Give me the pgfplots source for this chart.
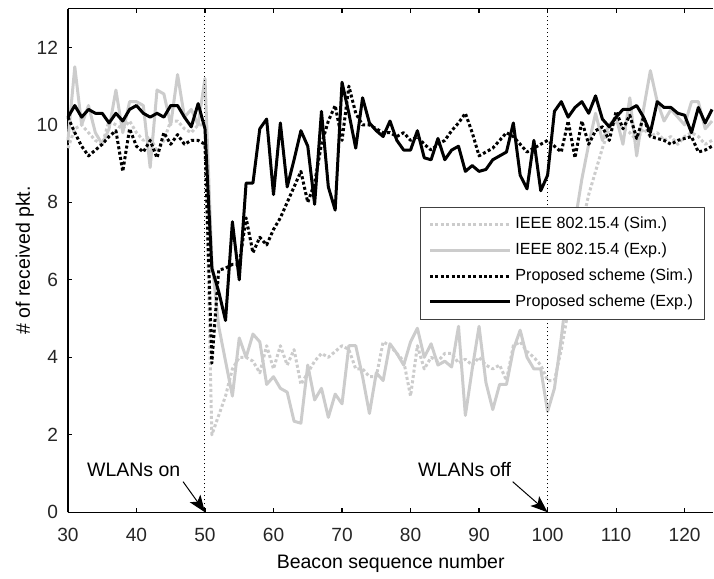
\documentclass[border=0pt]{standalone}
\usepackage{fontspec}
\setmainfont{Liberation Sans}
\usepackage{pgfplots}
\pgfplotsset{compat=1.18}
\usepackage{pgfplotstable}
\usetikzlibrary{arrows.meta}
\definecolor{lg}{RGB}{204,204,204}

% x  ieeeSim ieeeExp propSim propExp
\pgfplotstableread{
x  is    ie    ps    pe
30 9.4   9.6   10.2  10.2
31 9.9   11.5  9.8   10.5
32 10.0  10.0  9.45  10.2
33 9.8   10.5  9.2   10.4
34 9.6   9.8   9.35  10.3
35 9.5   9.5   9.5   10.3
36 10.1  9.9   9.7   10.05
37 10.0  10.9  9.85  10.3
38 9.9   9.8   8.8   10.1
39 10.1  10.6  9.9   10.4
40 9.8   10.6  9.45  10.5
41 9.6   10.5  9.3   10.3
42 9.7   8.9   9.6   10.2
43 9.3   10.9  9.15  10.3
44 9.6   10.8  9.8   10.2
45 10.1  10.0  9.5   10.5
46 10.1  11.3  9.75  10.5
47 9.9   10.2  9.5   10.2
48 9.8   10.4  9.6   9.95
49 10.0  10.0  9.6   10.55
50 10.0  11.2  9.5   9.9
51 2.0   6.5   3.85  6.3
52 2.5   4.8   6.25  5.7
53 3.0   3.9   6.3   4.95
54 3.7   3.0   6.4   7.5
55 4.0   4.5   6.4   6.0
56 4.0   4.0   7.6   8.5
57 3.9   4.6   6.7   8.5
58 3.6   4.4   7.1   9.9
59 4.3   3.3   6.9   10.15
60 3.7   3.5   7.3   8.2
61 4.3   3.2   7.6   10.05
62 3.8   3.1   8.0   8.4
63 4.2   2.35  8.4   9.1
64 3.3   2.3   8.8   9.85
65 3.6   3.8   8.0   9.45
66 3.9   2.9   8.5   7.95
67 4.1   3.2   9.5   10.35
68 4.0   2.45  10.1  8.4
69 4.15  3.05  10.5  7.8
70 4.3   2.8   9.6   11.1
71 4.2   4.3   11.0  10.3
72 3.7   4.3   10.3  9.4
73 3.7   3.5   10.0  10.7
74 3.5   2.55  10.0  10.05
75 3.5   3.6   9.9   9.85
76 4.4   3.4   9.8   9.7
77 4.3   4.35  9.8   10.1
78 4.1   4.1   9.7   9.6
79 3.9   3.8   9.8   9.35
80 3.0   4.4   9.6   9.35
81 4.3   4.75  9.7   9.85
82 3.7   4.0   9.5   9.15
83 4.0   4.35  9.35  9.1
84 3.9   3.8   9.5   9.65
85 4.1   3.9   9.6   9.1
86 4.1   3.75  9.85  9.35
87 3.85  4.8   10.05 9.45
88 3.95  2.5   10.3  8.8
89 3.8   3.7   9.8   8.95
90 4.0   4.8   9.2   8.8
91 3.8   3.35  9.3   8.85
92 3.7   2.65  9.4   9.1
93 3.8   3.3   9.6   9.2
94 3.4   3.3   9.8   9.3
95 4.3   4.2   9.7   10.05
96 4.4   4.7   9.5   8.7
97 4.15  4.0   9.3   8.35
98 4.0   3.7   9.4   9.6
99 3.8   3.7   9.5   8.3
100 3.4  2.6   9.6   8.7
101 3.4  3.2   9.45  10.35
102 4.2  4.5   9.3   10.6
103 5.2  6.0   10.1  10.2
104 6.3  7.5   9.15  10.45
105 7.4  8.6   10.1  10.6
106 8.2  9.5   9.5   10.3
107 8.8  10.3  9.85  10.75
108 9.4  9.6   9.95  10.15
109 9.9  10.0  9.6   9.95
110 10.1 10.2  10.35 10.2
111 9.9  9.5   9.9   10.4
112 9.8  10.7  10.25 10.4
113 9.6  9.2   9.65  10.5
114 9.9  10.4  10.2  10.2
115 9.7  11.4  9.7   9.8
116 9.8  10.6  9.65  10.6
117 9.6  10.1  9.6   10.45
118 9.7  10.4  9.5   10.45
119 9.5  10.2  9.6   10.3
120 9.7  10.0  9.65  10.25
121 9.8  10.6  9.7   9.8
122 9.7  10.6  9.3   10.45
123 9.5  9.9   9.35  10.05
124 9.6  10.1  9.45  10.4
}\datatable

\begin{document}
\begin{tikzpicture}
\path (-34bp,-33.15bp) rectangle (323bp,256.35bp);
\begin{axis}[
  at={(0,0)}, anchor=south west,
  scale only axis, width=323bp, height=252bp,
  xmin=30, xmax=124.2, ymin=0, ymax=13,
  xtick={30,40,...,120}, ytick={0,2,...,12},
  axis x line=box, axis y line=left,
  y axis line style={-},
  xtick pos=both, ytick pos=left,
  tick align=inside, major tick length=2.2bp,
  tick style={black, line width=0.6bp},
  axis line style={line width=0.6bp, black},
  clip=false,
  tick label style={font=\fontsize{9.6}{11}\selectfont, text=black!85},
  /pgf/number format/assume math mode=true,
  yticklabel style={xshift=-1.5bp},
  xticklabel style={yshift=-4.5bp},
  xlabel={Beacon sequence number},
  ylabel={\# of received pkt.},
  x label style={at={(axis description cs:0.5,-0.1117)}, anchor=base, inner sep=0pt, font=\fontsize{9.8}{11}\selectfont},
  y label style={at={(axis description cs:-0.0666,0.5)}, anchor=center, rotate=0, inner sep=0pt, font=\fontsize{9.8}{11}\selectfont},
  legend style={at={(0.9876,0.607)}, anchor=north east, draw=black!75, line width=0.5bp,
    font=\fontsize{8.1}{9.7}\selectfont, row sep=1.6bp, inner xsep=4bp, inner ysep=3bp},
  legend cell align=left,
  legend image code/.code={\draw[#1] (0bp,0bp) -- (40bp,0bp);},
  every axis plot/.append style={line join=round},
]
\addplot[lg, line width=1.5bp, dash pattern=on 1.5bp off 1.2bp] table[x=x,y=is] {\datatable};
\addlegendentry{IEEE 802.15.4 (Sim.)}
\addplot[lg, line width=1.5bp] table[x=x,y=ie] {\datatable};
\addlegendentry{IEEE 802.15.4 (Exp.)}
\addplot[black, line width=1.5bp, dash pattern=on 1.5bp off 1.2bp] table[x=x,y=ps] {\datatable};
\addlegendentry{Proposed scheme (Sim.)}
\addplot[black, line width=1.5bp] table[x=x,y=pe] {\datatable};
\addlegendentry{Proposed scheme (Exp.)}
\addplot[black, line width=0.5bp, dash pattern=on 0.5bp off 1.5bp, forget plot] coordinates {(50,0) (50,13)};
\addplot[black, line width=0.5bp, dash pattern=on 0.5bp off 1.5bp, forget plot] coordinates {(100,0) (100,13)};
\node[font=\fontsize{9.8}{11}\selectfont] at (axis cs:39.6,1.10) {WLANs on};
\node[font=\fontsize{9.8}{11}\selectfont] at (axis cs:87.9,1.10) {WLANs off};
\draw[-{Stealth[length=8.5bp,width=6.5bp,inset=2bp]}, line width=0.5bp] (axis cs:46.8,0.79) -- (axis cs:50,0);
\draw[-{Stealth[length=8.5bp,width=6.5bp,inset=2bp]}, line width=0.5bp] (axis cs:94.9,0.79) -- (axis cs:100,0);
\end{axis}
\end{tikzpicture}
\end{document}
